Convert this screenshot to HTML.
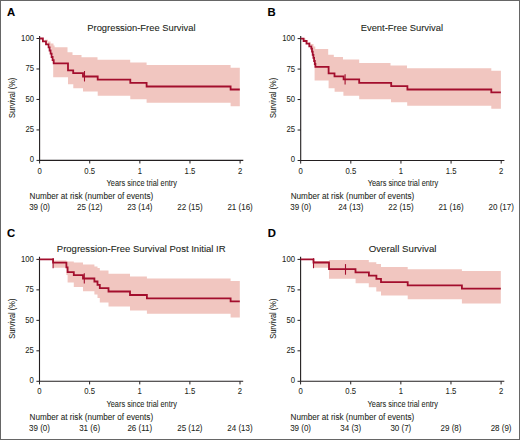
<!DOCTYPE html>
<html><head><meta charset="utf-8"><style>
html,body{margin:0;padding:0;background:#fff;}
body{width:520px;height:440px;overflow:hidden;}
svg{display:block;font-family:"Liberation Sans",sans-serif;}
</style></head><body>
<svg width="520" height="440" viewBox="0 0 520 440">
<rect x="0" y="0" width="520" height="440" fill="#fff"/>
<polygon points="39.60,38.50 45.00,38.50 45.00,39.80 48.00,39.80 48.00,41.50 50.50,41.50 50.50,43.50 53.50,43.50 53.50,45.50 54.60,45.50 54.60,47.20 67.50,47.20 67.50,52.20 72.50,52.20 72.50,55.00 81.50,55.00 81.50,57.20 97.50,57.20 97.50,59.80 130.20,59.80 130.20,62.60 146.60,62.60 146.60,65.10 230.60,65.10 230.60,67.80 239.80,67.80 239.80,106.20 230.60,106.20 230.60,102.80 146.60,102.80 146.60,99.20 130.30,99.20 130.30,95.80 97.70,95.80 97.70,91.60 83.00,91.60 83.00,88.30 73.30,88.30 73.30,84.20 68.00,84.20 68.00,77.30 53.20,77.30 53.20,63.00 52.80,63.00 52.80,55.00 51.50,55.00 51.50,48.50 50.00,48.50 50.00,44.50 47.50,44.50 47.50,41.50 45.00,41.50 45.00,38.50 42.50,38.50" fill="#f1c6c0"/>
<path d="M39.60,35.90V160.40H243.30" fill="none" stroke="#231f20" stroke-width="1.1"/>
<path d="M36.50,160.40H39.60" stroke="#231f20" stroke-width="1"/>
<text x="34.00" y="162.20" font-size="9.2" text-anchor="end" textLength="4.29" lengthAdjust="spacingAndGlyphs" fill="#231f20" stroke="#231f20" stroke-width="0.06">0</text>
<path d="M36.50,129.93H39.60" stroke="#231f20" stroke-width="1"/>
<text x="34.00" y="131.95" font-size="9.2" text-anchor="end" textLength="8.58" lengthAdjust="spacingAndGlyphs" fill="#231f20" stroke="#231f20" stroke-width="0.06">25</text>
<path d="M36.50,99.45H39.60" stroke="#231f20" stroke-width="1"/>
<text x="34.00" y="101.70" font-size="9.2" text-anchor="end" textLength="8.58" lengthAdjust="spacingAndGlyphs" fill="#231f20" stroke="#231f20" stroke-width="0.06">50</text>
<path d="M36.50,68.97H39.60" stroke="#231f20" stroke-width="1"/>
<text x="34.00" y="71.45" font-size="9.2" text-anchor="end" textLength="8.58" lengthAdjust="spacingAndGlyphs" fill="#231f20" stroke="#231f20" stroke-width="0.06">75</text>
<path d="M36.50,38.50H39.60" stroke="#231f20" stroke-width="1"/>
<text x="34.00" y="41.20" font-size="9.2" text-anchor="end" textLength="12.88" lengthAdjust="spacingAndGlyphs" fill="#231f20" stroke="#231f20" stroke-width="0.06">100</text>
<path d="M39.60,160.40V163.50" stroke="#231f20" stroke-width="1"/>
<text x="39.60" y="173.50" font-size="9.2" text-anchor="middle" textLength="4.29" lengthAdjust="spacingAndGlyphs" fill="#231f20" stroke="#231f20" stroke-width="0.06">0</text>
<path d="M89.72,160.40V163.50" stroke="#231f20" stroke-width="1"/>
<text x="89.72" y="173.50" font-size="9.2" text-anchor="middle" textLength="10.73" lengthAdjust="spacingAndGlyphs" fill="#231f20" stroke="#231f20" stroke-width="0.06">0.5</text>
<path d="M139.85,160.40V163.50" stroke="#231f20" stroke-width="1"/>
<text x="139.85" y="173.50" font-size="9.2" text-anchor="middle" textLength="4.29" lengthAdjust="spacingAndGlyphs" fill="#231f20" stroke="#231f20" stroke-width="0.06">1</text>
<path d="M189.97,160.40V163.50" stroke="#231f20" stroke-width="1"/>
<text x="189.97" y="173.50" font-size="9.2" text-anchor="middle" textLength="10.73" lengthAdjust="spacingAndGlyphs" fill="#231f20" stroke="#231f20" stroke-width="0.06">1.5</text>
<path d="M240.10,160.40V163.50" stroke="#231f20" stroke-width="1"/>
<text x="240.10" y="173.50" font-size="9.2" text-anchor="middle" textLength="4.29" lengthAdjust="spacingAndGlyphs" fill="#231f20" stroke="#231f20" stroke-width="0.06">2</text>
<path d="M39.60,38.50H42.90V41.40H46.00V44.30H48.60V47.30H49.60V50.50H50.60V53.70H51.60V57.00H52.60V60.20H53.70V63.40H68.00V70.30H73.20V73.20H83.00V76.50H97.70V79.70H130.30V82.80H146.60V86.50H230.60V89.50H239.80" fill="none" stroke="#a30e2d" stroke-width="1.8"/>
<path d="M84.50,71.00V81.50" stroke="#a30e2d" stroke-width="1.1"/>
<text x="6.90" y="16.20" font-size="11.3" text-anchor="start" font-weight="bold" fill="#000" stroke="#000" stroke-width="0.1">A</text>
<text x="141.40" y="30.70" font-size="9.6" text-anchor="middle" textLength="108.20" lengthAdjust="spacingAndGlyphs" fill="#231f20" stroke="#231f20" stroke-width="0.08">Progression-Free Survival</text>
<text x="141.80" y="186.30" font-size="9.4" text-anchor="middle" textLength="70.40" lengthAdjust="spacingAndGlyphs" fill="#231f20" stroke="#231f20" stroke-width="0.06">Years since trial entry</text>
<text x="0" y="0" font-size="9.1" text-anchor="middle" textLength="40.2" lengthAdjust="spacingAndGlyphs" fill="#231f20" stroke="#231f20" stroke-width="0.06" transform="translate(15.40,97.80) rotate(-90)">Survival (%)</text>
<text x="29.60" y="198.90" font-size="8.9" text-anchor="start" textLength="123.60" lengthAdjust="spacingAndGlyphs" fill="#231f20" stroke="#231f20" stroke-width="0.06">Number at risk (number of events)</text>
<text x="39.60" y="210.10" font-size="9.0" text-anchor="middle" textLength="20.90" lengthAdjust="spacingAndGlyphs" fill="#231f20" stroke="#231f20" stroke-width="0.06">39 (0)</text>
<text x="89.72" y="210.10" font-size="9.0" text-anchor="middle" textLength="25.34" lengthAdjust="spacingAndGlyphs" fill="#231f20" stroke="#231f20" stroke-width="0.06">25 (12)</text>
<text x="139.85" y="210.10" font-size="9.0" text-anchor="middle" textLength="25.34" lengthAdjust="spacingAndGlyphs" fill="#231f20" stroke="#231f20" stroke-width="0.06">23 (14)</text>
<text x="189.97" y="210.10" font-size="9.0" text-anchor="middle" textLength="25.34" lengthAdjust="spacingAndGlyphs" fill="#231f20" stroke="#231f20" stroke-width="0.06">22 (15)</text>
<text x="240.10" y="210.10" font-size="9.0" text-anchor="middle" textLength="25.34" lengthAdjust="spacingAndGlyphs" fill="#231f20" stroke="#231f20" stroke-width="0.06">21 (16)</text>
<polygon points="300.70,38.60 305.50,38.60 305.50,40.00 308.00,40.00 308.00,42.00 310.50,42.00 310.50,44.00 313.50,44.00 313.50,46.50 315.30,46.50 315.30,49.00 328.20,49.00 328.20,54.80 333.80,54.80 333.80,57.10 343.00,57.10 343.00,59.60 359.20,59.60 359.20,63.10 390.50,63.10 390.50,65.40 407.00,65.40 407.00,68.20 491.30,68.20 491.30,70.80 500.90,70.80 500.90,108.80 491.30,108.80 491.30,105.80 407.20,105.80 407.20,102.30 391.00,102.30 391.00,99.20 359.20,99.20 359.20,95.80 343.40,95.80 343.40,91.70 334.60,91.70 334.60,88.30 328.60,88.30 328.60,80.60 314.60,80.60 314.60,66.00 314.50,66.00 314.50,57.00 313.00,57.00 313.00,49.00 311.50,49.00 311.50,45.00 309.00,45.00 309.00,42.50 306.50,42.50 306.50,40.00 304.00,40.00 304.00,38.60 303.00,38.60" fill="#f1c6c0"/>
<path d="M300.70,36.00V160.50H504.40" fill="none" stroke="#231f20" stroke-width="1.1"/>
<path d="M297.60,160.50H300.70" stroke="#231f20" stroke-width="1"/>
<text x="295.10" y="162.30" font-size="9.2" text-anchor="end" textLength="4.29" lengthAdjust="spacingAndGlyphs" fill="#231f20" stroke="#231f20" stroke-width="0.06">0</text>
<path d="M297.60,130.03H300.70" stroke="#231f20" stroke-width="1"/>
<text x="295.10" y="132.05" font-size="9.2" text-anchor="end" textLength="8.58" lengthAdjust="spacingAndGlyphs" fill="#231f20" stroke="#231f20" stroke-width="0.06">25</text>
<path d="M297.60,99.55H300.70" stroke="#231f20" stroke-width="1"/>
<text x="295.10" y="101.80" font-size="9.2" text-anchor="end" textLength="8.58" lengthAdjust="spacingAndGlyphs" fill="#231f20" stroke="#231f20" stroke-width="0.06">50</text>
<path d="M297.60,69.07H300.70" stroke="#231f20" stroke-width="1"/>
<text x="295.10" y="71.55" font-size="9.2" text-anchor="end" textLength="8.58" lengthAdjust="spacingAndGlyphs" fill="#231f20" stroke="#231f20" stroke-width="0.06">75</text>
<path d="M297.60,38.60H300.70" stroke="#231f20" stroke-width="1"/>
<text x="295.10" y="41.30" font-size="9.2" text-anchor="end" textLength="12.88" lengthAdjust="spacingAndGlyphs" fill="#231f20" stroke="#231f20" stroke-width="0.06">100</text>
<path d="M300.70,160.50V163.60" stroke="#231f20" stroke-width="1"/>
<text x="300.70" y="173.60" font-size="9.2" text-anchor="middle" textLength="4.29" lengthAdjust="spacingAndGlyphs" fill="#231f20" stroke="#231f20" stroke-width="0.06">0</text>
<path d="M350.82,160.50V163.60" stroke="#231f20" stroke-width="1"/>
<text x="350.82" y="173.60" font-size="9.2" text-anchor="middle" textLength="10.73" lengthAdjust="spacingAndGlyphs" fill="#231f20" stroke="#231f20" stroke-width="0.06">0.5</text>
<path d="M400.95,160.50V163.60" stroke="#231f20" stroke-width="1"/>
<text x="400.95" y="173.60" font-size="9.2" text-anchor="middle" textLength="4.29" lengthAdjust="spacingAndGlyphs" fill="#231f20" stroke="#231f20" stroke-width="0.06">1</text>
<path d="M451.07,160.50V163.60" stroke="#231f20" stroke-width="1"/>
<text x="451.07" y="173.60" font-size="9.2" text-anchor="middle" textLength="10.73" lengthAdjust="spacingAndGlyphs" fill="#231f20" stroke="#231f20" stroke-width="0.06">1.5</text>
<path d="M501.20,160.50V163.60" stroke="#231f20" stroke-width="1"/>
<text x="501.20" y="173.60" font-size="9.2" text-anchor="middle" textLength="4.29" lengthAdjust="spacingAndGlyphs" fill="#231f20" stroke="#231f20" stroke-width="0.06">2</text>
<path d="M300.70,38.60H303.60V41.00H306.50V43.70H309.30V46.30H311.30V48.60H312.00V51.70H312.70V54.80H313.40V57.90H314.10V61.00H314.80V64.00H315.40V66.80H328.60V73.40H334.50V76.30H343.60V79.40H359.20V82.80H391.20V86.20H407.40V89.50H491.30V92.40H500.90" fill="none" stroke="#a30e2d" stroke-width="1.8"/>
<path d="M345.10,74.20V84.60" stroke="#a30e2d" stroke-width="1.1"/>
<text x="267.50" y="16.00" font-size="11.3" text-anchor="start" font-weight="bold" fill="#000" stroke="#000" stroke-width="0.1">B</text>
<text x="401.90" y="30.80" font-size="9.6" text-anchor="middle" textLength="82.40" lengthAdjust="spacingAndGlyphs" fill="#231f20" stroke="#231f20" stroke-width="0.08">Event-Free Survival</text>
<text x="402.90" y="186.40" font-size="9.4" text-anchor="middle" textLength="70.40" lengthAdjust="spacingAndGlyphs" fill="#231f20" stroke="#231f20" stroke-width="0.06">Years since trial entry</text>
<text x="0" y="0" font-size="9.1" text-anchor="middle" textLength="40.2" lengthAdjust="spacingAndGlyphs" fill="#231f20" stroke="#231f20" stroke-width="0.06" transform="translate(275.70,97.90) rotate(-90)">Survival (%)</text>
<text x="290.70" y="199.00" font-size="8.9" text-anchor="start" textLength="123.60" lengthAdjust="spacingAndGlyphs" fill="#231f20" stroke="#231f20" stroke-width="0.06">Number at risk (number of events)</text>
<text x="300.70" y="210.20" font-size="9.0" text-anchor="middle" textLength="20.90" lengthAdjust="spacingAndGlyphs" fill="#231f20" stroke="#231f20" stroke-width="0.06">39 (0)</text>
<text x="350.82" y="210.20" font-size="9.0" text-anchor="middle" textLength="25.34" lengthAdjust="spacingAndGlyphs" fill="#231f20" stroke="#231f20" stroke-width="0.06">24 (13)</text>
<text x="400.95" y="210.20" font-size="9.0" text-anchor="middle" textLength="25.34" lengthAdjust="spacingAndGlyphs" fill="#231f20" stroke="#231f20" stroke-width="0.06">22 (15)</text>
<text x="451.07" y="210.20" font-size="9.0" text-anchor="middle" textLength="25.34" lengthAdjust="spacingAndGlyphs" fill="#231f20" stroke="#231f20" stroke-width="0.06">21 (16)</text>
<text x="501.20" y="210.20" font-size="9.0" text-anchor="middle" textLength="25.34" lengthAdjust="spacingAndGlyphs" fill="#231f20" stroke="#231f20" stroke-width="0.06">20 (17)</text>
<polygon points="39.50,259.40 53.10,259.40 53.10,260.40 66.40,260.40 66.40,261.50 73.80,261.50 73.80,262.50 83.00,262.50 83.00,264.40 94.40,264.40 94.40,266.50 97.50,266.50 97.50,268.00 99.80,268.00 99.80,270.50 108.50,270.50 108.50,273.80 130.00,273.80 130.00,276.50 146.90,276.50 146.90,278.60 230.60,278.60 230.60,281.10 239.80,281.10 239.80,317.40 230.60,317.40 230.60,313.80 146.90,313.80 146.90,310.50 130.00,310.50 130.00,306.50 108.50,306.50 108.50,302.50 99.80,302.50 99.80,298.00 97.50,298.00 97.50,294.60 94.40,294.60 94.40,291.20 83.00,291.20 83.00,287.10 73.80,287.10 73.80,282.60 67.60,282.60 67.60,275.00 66.40,275.00 66.40,267.70 53.10,267.70 53.10,259.40 53.10,259.40" fill="#f1c6c0"/>
<path d="M39.50,256.80V381.30H243.20" fill="none" stroke="#231f20" stroke-width="1.1"/>
<path d="M36.40,381.30H39.50" stroke="#231f20" stroke-width="1"/>
<text x="33.90" y="383.10" font-size="9.2" text-anchor="end" textLength="4.29" lengthAdjust="spacingAndGlyphs" fill="#231f20" stroke="#231f20" stroke-width="0.06">0</text>
<path d="M36.40,350.82H39.50" stroke="#231f20" stroke-width="1"/>
<text x="33.90" y="352.85" font-size="9.2" text-anchor="end" textLength="8.58" lengthAdjust="spacingAndGlyphs" fill="#231f20" stroke="#231f20" stroke-width="0.06">25</text>
<path d="M36.40,320.35H39.50" stroke="#231f20" stroke-width="1"/>
<text x="33.90" y="322.60" font-size="9.2" text-anchor="end" textLength="8.58" lengthAdjust="spacingAndGlyphs" fill="#231f20" stroke="#231f20" stroke-width="0.06">50</text>
<path d="M36.40,289.87H39.50" stroke="#231f20" stroke-width="1"/>
<text x="33.90" y="292.35" font-size="9.2" text-anchor="end" textLength="8.58" lengthAdjust="spacingAndGlyphs" fill="#231f20" stroke="#231f20" stroke-width="0.06">75</text>
<path d="M36.40,259.40H39.50" stroke="#231f20" stroke-width="1"/>
<text x="33.90" y="262.10" font-size="9.2" text-anchor="end" textLength="12.88" lengthAdjust="spacingAndGlyphs" fill="#231f20" stroke="#231f20" stroke-width="0.06">100</text>
<path d="M39.50,381.30V384.40" stroke="#231f20" stroke-width="1"/>
<text x="39.50" y="394.40" font-size="9.2" text-anchor="middle" textLength="4.29" lengthAdjust="spacingAndGlyphs" fill="#231f20" stroke="#231f20" stroke-width="0.06">0</text>
<path d="M89.62,381.30V384.40" stroke="#231f20" stroke-width="1"/>
<text x="89.62" y="394.40" font-size="9.2" text-anchor="middle" textLength="10.73" lengthAdjust="spacingAndGlyphs" fill="#231f20" stroke="#231f20" stroke-width="0.06">0.5</text>
<path d="M139.75,381.30V384.40" stroke="#231f20" stroke-width="1"/>
<text x="139.75" y="394.40" font-size="9.2" text-anchor="middle" textLength="4.29" lengthAdjust="spacingAndGlyphs" fill="#231f20" stroke="#231f20" stroke-width="0.06">1</text>
<path d="M189.88,381.30V384.40" stroke="#231f20" stroke-width="1"/>
<text x="189.88" y="394.40" font-size="9.2" text-anchor="middle" textLength="10.73" lengthAdjust="spacingAndGlyphs" fill="#231f20" stroke="#231f20" stroke-width="0.06">1.5</text>
<path d="M240.00,381.30V384.40" stroke="#231f20" stroke-width="1"/>
<text x="240.00" y="394.40" font-size="9.2" text-anchor="middle" textLength="4.29" lengthAdjust="spacingAndGlyphs" fill="#231f20" stroke="#231f20" stroke-width="0.06">2</text>
<path d="M39.50,259.40H53.10V262.70H66.40V267.40H67.60V272.20H73.80V275.10H83.00V278.50H94.40V281.50H97.50V284.90H99.80V288.20H108.50V291.50H130.00V295.00H146.90V298.30H230.60V301.40H239.80" fill="none" stroke="#a30e2d" stroke-width="1.8"/>
<path d="M53.10,258.00V268.30" stroke="#a30e2d" stroke-width="1.1"/>
<path d="M84.30,273.30V283.60" stroke="#a30e2d" stroke-width="1.1"/>
<text x="6.90" y="237.10" font-size="11.3" text-anchor="start" font-weight="bold" fill="#000" stroke="#000" stroke-width="0.1">C</text>
<text x="141.20" y="251.60" font-size="9.6" text-anchor="middle" textLength="168.80" lengthAdjust="spacingAndGlyphs" fill="#231f20" stroke="#231f20" stroke-width="0.08">Progression-Free Survival Post Initial IR</text>
<text x="141.70" y="407.20" font-size="9.4" text-anchor="middle" textLength="70.40" lengthAdjust="spacingAndGlyphs" fill="#231f20" stroke="#231f20" stroke-width="0.06">Years since trial entry</text>
<text x="0" y="0" font-size="9.1" text-anchor="middle" textLength="40.2" lengthAdjust="spacingAndGlyphs" fill="#231f20" stroke="#231f20" stroke-width="0.06" transform="translate(15.30,318.70) rotate(-90)">Survival (%)</text>
<text x="29.50" y="419.80" font-size="8.9" text-anchor="start" textLength="123.60" lengthAdjust="spacingAndGlyphs" fill="#231f20" stroke="#231f20" stroke-width="0.06">Number at risk (number of events)</text>
<text x="39.50" y="431.00" font-size="9.0" text-anchor="middle" textLength="20.90" lengthAdjust="spacingAndGlyphs" fill="#231f20" stroke="#231f20" stroke-width="0.06">39 (0)</text>
<text x="89.62" y="431.00" font-size="9.0" text-anchor="middle" textLength="20.90" lengthAdjust="spacingAndGlyphs" fill="#231f20" stroke="#231f20" stroke-width="0.06">31 (6)</text>
<text x="139.75" y="431.00" font-size="9.0" text-anchor="middle" textLength="24.75" lengthAdjust="spacingAndGlyphs" fill="#231f20" stroke="#231f20" stroke-width="0.06">26 (11)</text>
<text x="189.88" y="431.00" font-size="9.0" text-anchor="middle" textLength="25.34" lengthAdjust="spacingAndGlyphs" fill="#231f20" stroke="#231f20" stroke-width="0.06">25 (12)</text>
<text x="240.00" y="431.00" font-size="9.0" text-anchor="middle" textLength="25.34" lengthAdjust="spacingAndGlyphs" fill="#231f20" stroke="#231f20" stroke-width="0.06">24 (13)</text>
<polygon points="300.60,259.40 313.50,259.40 313.50,261.00 329.00,261.00 329.00,260.10 368.80,260.10 368.80,262.20 376.30,262.20 376.30,264.10 381.00,264.10 381.00,267.00 407.70,267.00 407.70,269.20 461.90,269.20 461.90,271.10 500.80,271.10 500.80,303.50 461.90,303.50 461.90,299.30 407.70,299.30 407.70,295.50 381.00,295.50 381.00,291.50 376.30,291.50 376.30,287.20 368.80,287.20 368.80,283.20 355.60,283.20 355.60,278.80 329.00,278.80 329.00,267.80 313.50,267.80 313.50,259.40 313.50,259.40" fill="#f1c6c0"/>
<path d="M300.60,256.80V381.30H504.30" fill="none" stroke="#231f20" stroke-width="1.1"/>
<path d="M297.50,381.30H300.60" stroke="#231f20" stroke-width="1"/>
<text x="295.00" y="383.10" font-size="9.2" text-anchor="end" textLength="4.29" lengthAdjust="spacingAndGlyphs" fill="#231f20" stroke="#231f20" stroke-width="0.06">0</text>
<path d="M297.50,350.82H300.60" stroke="#231f20" stroke-width="1"/>
<text x="295.00" y="352.85" font-size="9.2" text-anchor="end" textLength="8.58" lengthAdjust="spacingAndGlyphs" fill="#231f20" stroke="#231f20" stroke-width="0.06">25</text>
<path d="M297.50,320.35H300.60" stroke="#231f20" stroke-width="1"/>
<text x="295.00" y="322.60" font-size="9.2" text-anchor="end" textLength="8.58" lengthAdjust="spacingAndGlyphs" fill="#231f20" stroke="#231f20" stroke-width="0.06">50</text>
<path d="M297.50,289.87H300.60" stroke="#231f20" stroke-width="1"/>
<text x="295.00" y="292.35" font-size="9.2" text-anchor="end" textLength="8.58" lengthAdjust="spacingAndGlyphs" fill="#231f20" stroke="#231f20" stroke-width="0.06">75</text>
<path d="M297.50,259.40H300.60" stroke="#231f20" stroke-width="1"/>
<text x="295.00" y="262.10" font-size="9.2" text-anchor="end" textLength="12.88" lengthAdjust="spacingAndGlyphs" fill="#231f20" stroke="#231f20" stroke-width="0.06">100</text>
<path d="M300.60,381.30V384.40" stroke="#231f20" stroke-width="1"/>
<text x="300.60" y="394.40" font-size="9.2" text-anchor="middle" textLength="4.29" lengthAdjust="spacingAndGlyphs" fill="#231f20" stroke="#231f20" stroke-width="0.06">0</text>
<path d="M350.73,381.30V384.40" stroke="#231f20" stroke-width="1"/>
<text x="350.73" y="394.40" font-size="9.2" text-anchor="middle" textLength="10.73" lengthAdjust="spacingAndGlyphs" fill="#231f20" stroke="#231f20" stroke-width="0.06">0.5</text>
<path d="M400.85,381.30V384.40" stroke="#231f20" stroke-width="1"/>
<text x="400.85" y="394.40" font-size="9.2" text-anchor="middle" textLength="4.29" lengthAdjust="spacingAndGlyphs" fill="#231f20" stroke="#231f20" stroke-width="0.06">1</text>
<path d="M450.98,381.30V384.40" stroke="#231f20" stroke-width="1"/>
<text x="450.98" y="394.40" font-size="9.2" text-anchor="middle" textLength="10.73" lengthAdjust="spacingAndGlyphs" fill="#231f20" stroke="#231f20" stroke-width="0.06">1.5</text>
<path d="M501.10,381.30V384.40" stroke="#231f20" stroke-width="1"/>
<text x="501.10" y="394.40" font-size="9.2" text-anchor="middle" textLength="4.29" lengthAdjust="spacingAndGlyphs" fill="#231f20" stroke="#231f20" stroke-width="0.06">2</text>
<path d="M300.60,259.40H313.50V262.50H329.00V269.10H355.50V272.40H368.90V275.60H376.40V278.90H381.00V282.10H407.70V285.30H461.90V288.70H500.80" fill="none" stroke="#a30e2d" stroke-width="1.8"/>
<path d="M313.50,258.20V268.20" stroke="#a30e2d" stroke-width="1.1"/>
<path d="M345.50,264.10V274.70" stroke="#a30e2d" stroke-width="1.1"/>
<text x="267.70" y="236.80" font-size="11.3" text-anchor="start" font-weight="bold" fill="#000" stroke="#000" stroke-width="0.1">D</text>
<text x="402.60" y="251.60" font-size="9.6" text-anchor="middle" textLength="67.80" lengthAdjust="spacingAndGlyphs" fill="#231f20" stroke="#231f20" stroke-width="0.08">Overall Survival</text>
<text x="402.80" y="407.20" font-size="9.4" text-anchor="middle" textLength="70.40" lengthAdjust="spacingAndGlyphs" fill="#231f20" stroke="#231f20" stroke-width="0.06">Years since trial entry</text>
<text x="0" y="0" font-size="9.1" text-anchor="middle" textLength="40.2" lengthAdjust="spacingAndGlyphs" fill="#231f20" stroke="#231f20" stroke-width="0.06" transform="translate(275.60,318.70) rotate(-90)">Survival (%)</text>
<text x="290.60" y="419.80" font-size="8.9" text-anchor="start" textLength="123.60" lengthAdjust="spacingAndGlyphs" fill="#231f20" stroke="#231f20" stroke-width="0.06">Number at risk (number of events)</text>
<text x="300.60" y="431.00" font-size="9.0" text-anchor="middle" textLength="20.90" lengthAdjust="spacingAndGlyphs" fill="#231f20" stroke="#231f20" stroke-width="0.06">39 (0)</text>
<text x="350.73" y="431.00" font-size="9.0" text-anchor="middle" textLength="20.90" lengthAdjust="spacingAndGlyphs" fill="#231f20" stroke="#231f20" stroke-width="0.06">34 (3)</text>
<text x="400.85" y="431.00" font-size="9.0" text-anchor="middle" textLength="20.90" lengthAdjust="spacingAndGlyphs" fill="#231f20" stroke="#231f20" stroke-width="0.06">30 (7)</text>
<text x="450.98" y="431.00" font-size="9.0" text-anchor="middle" textLength="20.90" lengthAdjust="spacingAndGlyphs" fill="#231f20" stroke="#231f20" stroke-width="0.06">29 (8)</text>
<text x="501.10" y="431.00" font-size="9.0" text-anchor="middle" textLength="20.90" lengthAdjust="spacingAndGlyphs" fill="#231f20" stroke="#231f20" stroke-width="0.06">28 (9)</text>
<rect x="0.5" y="0.5" width="519" height="439" fill="none" stroke="#666" stroke-width="1"/>
</svg>
</body></html>
